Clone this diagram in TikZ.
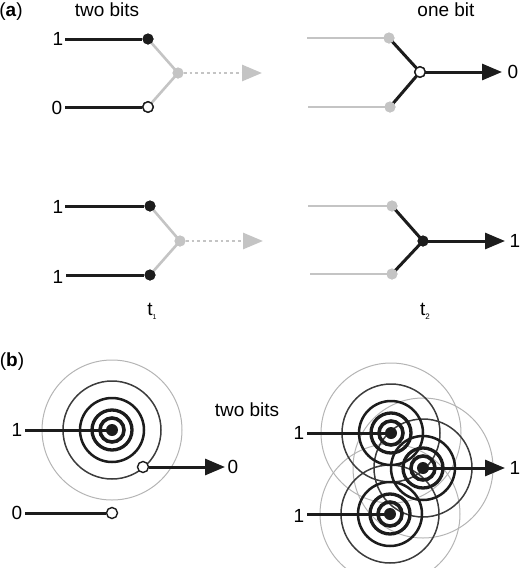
\documentclass[tikz,border=0pt]{standalone}
\usepackage{fontspec}
\setmainfont{Liberation Sans}
\usetikzlibrary{arrows.meta}
\definecolor{ink}{HTML}{1C1C1C}
\definecolor{lgray}{HTML}{C4C4C4}
\definecolor{ringlight}{HTML}{B4B4B4}
\definecolor{ringdark}{HTML}{3C3C3C}
\begin{document}
\begin{tikzpicture}[x=1pt,y=-1pt,
  blk/.style={line width=3pt, draw=ink},
  gry/.style={line width=2.6pt, draw=lgray},
  fdot/.style={circle, fill=ink, inner sep=0pt, minimum size=11pt},
  odot/.style={circle, draw=ink, fill=white, line width=1.4pt, inner sep=0pt, minimum size=10.5pt},
  gdot/.style={circle, fill=lgray, inner sep=0pt, minimum size=11pt},
  bigdot/.style={circle, fill=ink, inner sep=0pt, minimum size=12pt},
  lbl/.style={font=\fontsize{19}{21}\selectfont, inner sep=0pt},
  blkarrow/.style={blk, -{Triangle[length=20pt,width=16pt]}},
  grayarrow/.style={line width=2.8pt, draw=lgray, dash pattern=on 2.8pt off 3pt, -{Triangle[length=20pt,width=16pt]}}
]
\path[use as bounding box] (0,0) rectangle (520,568);

% ---------------- panel (a) headers
\node[lbl] (pa) at (11,12) {(\textbf{a})};
\node[lbl] (h2a) at (107,10) {two bits};
\node[lbl] (h1a) at (446,10) {one bit};

% ---------------- row 1, left
\node[lbl] (r1l1) at (58,39) {1};
\node[lbl] (r1l0) at (57,108) {0};
\coordinate (r1tip) at (262,73);
\node[gdot] (r1j) at (178,73) {};
\node[fdot] (r1a) at (148,39) {};
\node[odot] (r1b) at (148,107) {};
\draw[gry] (r1a.center) -- (r1j.center);
\draw[gry] (r1b.center) -- (r1j.center);
\draw[grayarrow] (r1j.east) -- (r1tip);
\draw[blk] ([xshift=2pt]r1l1.east |- r1a) -- (r1a);
\draw[blk] ([xshift=3pt]r1l0.east |- r1b) -- (r1b);
\node[gdot] at (r1j) {};
\node[fdot] at (r1a) {};
\node[odot] at (r1b) {};

% ---------------- row 1, right
\coordinate (r1s1) at (307,38);
\coordinate (r1s2) at (308,107);
\node[gdot] (r1c) at (389,38) {};
\node[gdot] (r1d) at (390,107) {};
\node[odot] (r1k) at (420,72) {};
\coordinate (r1out) at (502,72);
\node[lbl] (r1o) at (513,72) {0};
\draw[gry] (r1s1) -- (r1c.center);
\draw[gry] (r1s2) -- (r1d.center);
\draw[blk] (r1c.center) -- (r1k.center);
\draw[blk] (r1d.center) -- (r1k.center);
\draw[blkarrow] (r1k.center) -- (r1out);
\node[gdot] at (r1c) {};
\node[gdot] at (r1d) {};
\node[odot] at (r1k) {};

% ---------------- row 2, left
\node[lbl] (r2l1) at (58,207) {1};
\node[lbl] (r2l2) at (58,277) {1};
\coordinate (r2tip) at (263,241);
\node[gdot] (r2j) at (180,241) {};
\node[fdot] (r2a) at (150,206) {};
\node[fdot] (r2b) at (150,275) {};
\draw[gry] (r2a.center) -- (r2j.center);
\draw[gry] (r2b.center) -- (r2j.center);
\draw[grayarrow] (r2j.east) -- (r2tip);
\draw[blk] ([xshift=2pt]r2l1.east |- r2a) -- (r2a);
\draw[blk] ([xshift=3pt]r2l2.east |- r2b) -- (r2b);
\node[gdot] at (r2j) {};
\node[fdot] at (r2a) {};
\node[fdot] at (r2b) {};

% ---------------- row 2, right
\coordinate (r2s1) at (308,206);
\coordinate (r2s2) at (310,274);
\node[gdot] (r2c) at (392,206) {};
\node[gdot] (r2d) at (392,274) {};
\node[fdot] (r2k) at (423,241) {};
\coordinate (r2out) at (505,241);
\node[lbl] (r2o) at (515,241) {1};
\draw[gry] (r2s1) -- (r2c.center);
\draw[gry] (r2s2) -- (r2d.center);
\draw[blk] (r2c.center) -- (r2k.center);
\draw[blk] (r2d.center) -- (r2k.center);
\draw[blkarrow] (r2k.center) -- (r2out);
\node[gdot] at (r2c) {};
\node[gdot] at (r2d) {};
\node[fdot] at (r2k) {};

% time labels
\node[lbl] (t1) at (152,311) {t\raisebox{-4pt}{\fontsize{7}{7}\selectfont 1}};
\node[lbl] (t2) at (425,311) {t\raisebox{-4pt}{\fontsize{8}{8}\selectfont 2}};

% ---------------- panel (b)
\node[lbl] (pb) at (12,362) {(\textbf{b})};
\node[lbl] (h2b) at (247,410) {two bits};

\coordinate (L) at (112,430);
\coordinate (A) at (391,433);
\coordinate (B) at (423,468);
\coordinate (C) at (390,514);

\begin{scope}
\clip (0,0) rectangle (520,568);
\foreach \r/\w/\c in {70/1.0/ringlight, 49/1.5/ringdark, 32/2.5/ink, 20/3.3/ink, 12/3.6/ink}{
  \foreach \p in {L,A,B,C}{
    \draw[line width=\w pt, draw=\c] (\p) circle (\r pt);
  }
}
\end{scope}

% left target connectors
\node[lbl] (bl1) at (17,430) {1};
\node[lbl] (bl0) at (17,513) {0};
\node[odot, minimum size=11pt] (bo1) at (143,467) {};
\node[odot, minimum size=11pt] (bo2) at (112,513) {};
\coordinate (bout0) at (225,467);
\node[lbl] (bo0lbl) at (233,467) {0};
\draw[blk] ([xshift=3pt]bl1.east |- L) -- (L);
\draw[blk] ([xshift=3pt]bl0.east |- bo2) -- (bo2);
\draw[blkarrow] (bo1) -- (bout0);
\node[bigdot] (Ld) at (L) {};

% right targets connectors
\node[lbl] (br1) at (299,433) {1};
\node[lbl] (br2) at (299,516) {1};
\coordinate (boutR) at (505,468);
\node[lbl] (brlbl) at (515,468) {1};
\draw[blk] ([xshift=3pt]br1.east |- A) -- (A);
\draw[blk] ([xshift=3pt]br2.east |- C) -- (C);
\draw[blkarrow] (B) -- (boutR);
\node[bigdot] (Ad) at (A) {};
\node[bigdot] (Bd) at (B) {};
\node[bigdot] (Cd) at (C) {};
\end{tikzpicture}
\end{document}
